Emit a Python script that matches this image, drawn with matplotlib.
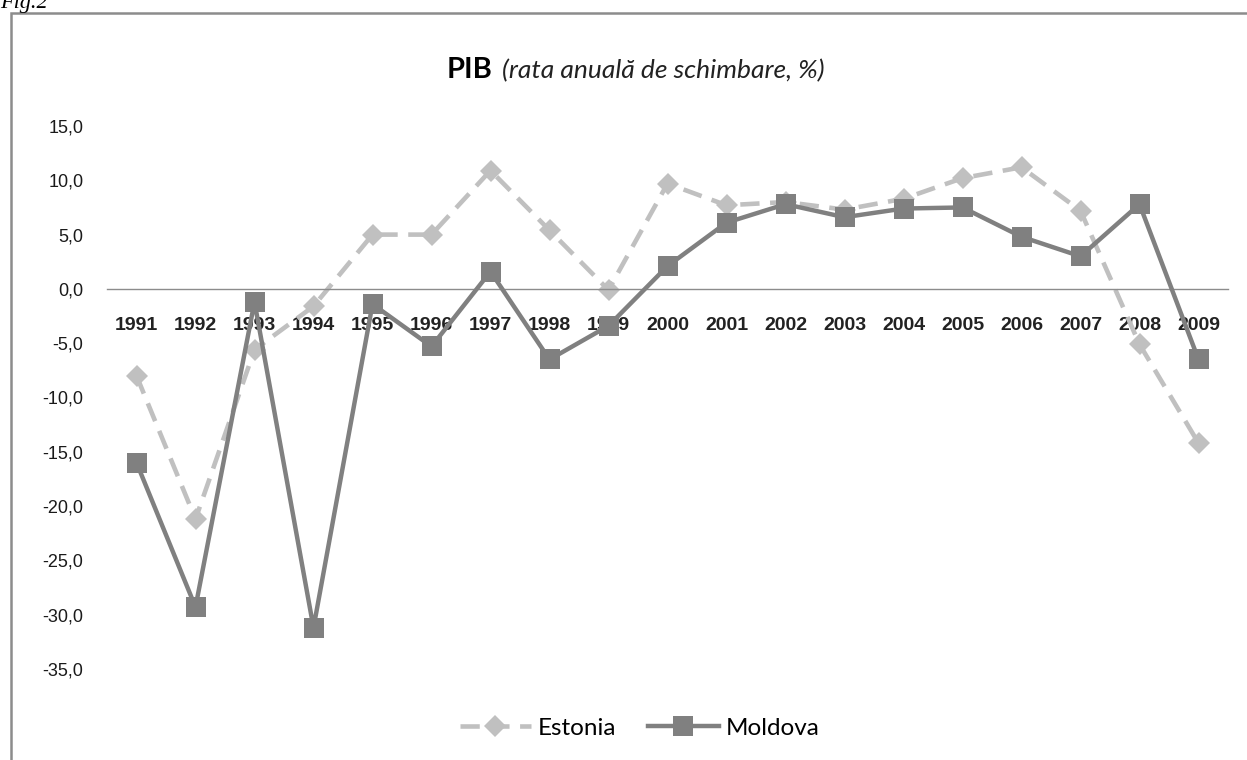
import matplotlib
matplotlib.use("Agg")
import matplotlib.pyplot as plt
from matplotlib.patches import Rectangle
from matplotlib.ticker import FuncFormatter

# ---------------------------------------------------------------------------
# Data
# ---------------------------------------------------------------------------

years = [str(y) for y in range(1991, 2010)]

estonia = [-8.0, -21.2, -5.6, -1.6, 5.0, 5.0, 10.9, 5.4, -0.1, 9.7,
           7.7, 8.0, 7.3, 8.3, 10.2, 11.2, 7.2, -5.1, -14.2]
moldova = [-16.0, -29.3, -1.2, -31.2, -1.4, -5.3, 1.6, -6.5, -3.4, 2.1,
           6.1, 7.8, 6.6, 7.4, 7.5, 4.8, 3.0, 7.8, -6.5]

y_ticks = [15, 10, 5, 0, -5, -10, -15, -20, -25, -30, -35]

# ---------------------------------------------------------------------------
# Plot
# ---------------------------------------------------------------------------

W, H = 1247, 760
fig = plt.figure(figsize=(W / 100, H / 100), dpi=100)

# chart frame (runs past the right/bottom edge of the image)
fig.patches.append(Rectangle((11 / W, -0.05), 1.1, 1 - 13 / H + 0.05,
                             transform=fig.transFigure, fill=False,
                             edgecolor="#8c8c8c", linewidth=1.8))
fig.text(0.0, 1 - 8 / H, "Fig.2", family="Liberation Serif", style="italic",
         fontsize=16, va="baseline", ha="left")

ax = fig.add_axes([107 / W, 1 - 669 / H, (1228 - 107) / W, (669 - 126) / H])
x = list(range(len(years)))

ax.plot(x, estonia, color="#c0c0c0", linestyle=(0, (4.2, 2.3)), linewidth=3.3,
        marker="D", markersize=11, markeredgewidth=0, label="Estonia", zorder=2)
ax.plot(x, moldova, color="#808080", linestyle="-", linewidth=3.2,
        marker="s", markersize=14, markeredgewidth=0, label="Moldova", zorder=3)

ax.set_xlim(-0.5, len(years) - 0.5)
ax.set_ylim(-35, 15)
ax.set_yticks(y_ticks)
ax.yaxis.set_major_formatter(FuncFormatter(lambda v, p: f"{v:.1f}".replace(".", ",")))
ax.tick_params(axis="y", length=0, pad=17)

ax.set_xticks(x)
ax.set_xticklabels(years)
ax.spines["bottom"].set_position(("data", 0))
ax.spines["bottom"].set_color("#8c8c8c")
ax.spines["bottom"].set_linewidth(1.0)
ax.tick_params(axis="x", length=0, pad=20)
for s in ("top", "right", "left"):
    ax.spines[s].set_visible(False)
for lbl in ax.get_xticklabels():
    lbl.set_fontfamily("Liberation Sans")
    lbl.set_fontweight("bold")
    lbl.set_fontsize(14)
    lbl.set_color("#222222")
for lbl in ax.get_yticklabels():
    lbl.set_fontfamily("Liberation Sans")
    lbl.set_fontsize(13)
    lbl.set_color("#1a1a1a")

# title: bold "PIB" + italic subtitle
fig.text(447 / W, 1 - 78 / H, "PIB", family="Lato", fontweight="bold",
         fontsize=21, va="baseline", ha="left")
fig.text(502 / W, 1 - 78 / H, "(rata anuală de schimbare, %)", family="Lato",
         style="italic", fontsize=19, va="baseline", ha="left", color="#222222")

fig.legend(loc="center", bbox_to_anchor=(640 / W, 1 - 728 / H), ncol=2,
           frameon=False, prop={"family": "Lato", "size": 17.5},
           handlelength=2.9, columnspacing=1.3, handletextpad=0.3)

fig.savefig("out.png", dpi=100)
